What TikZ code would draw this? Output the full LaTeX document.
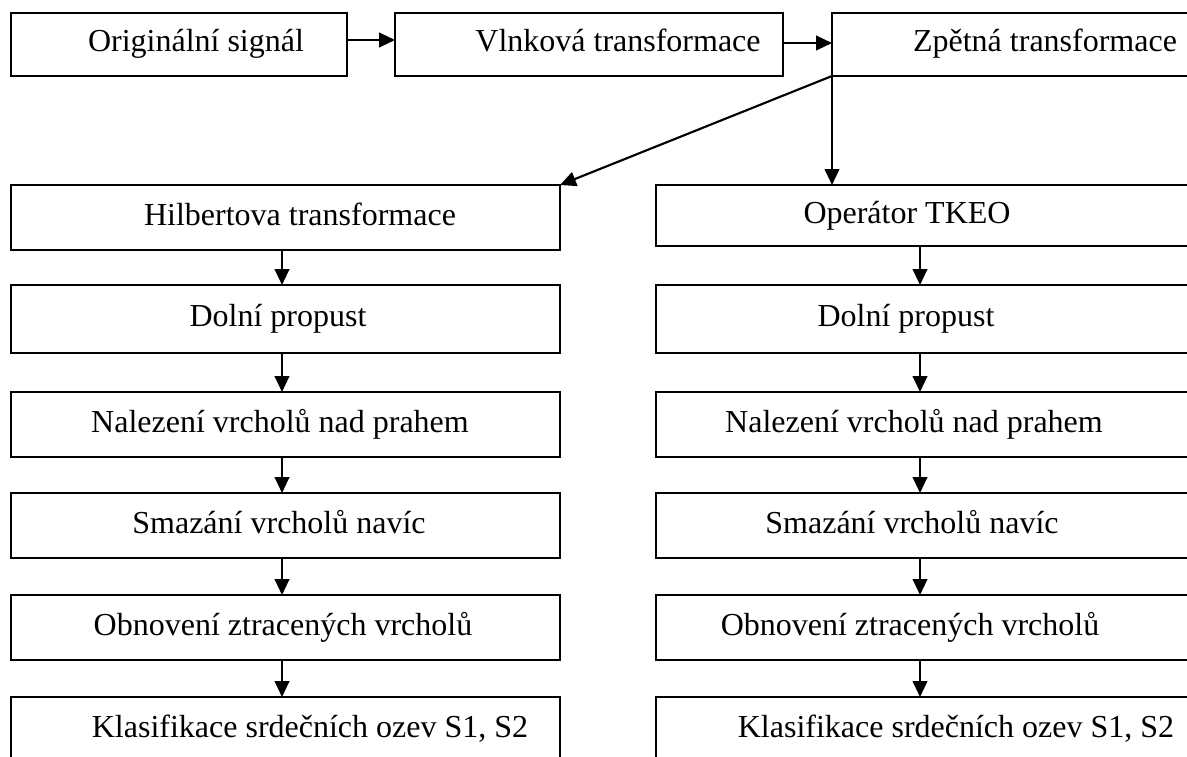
\documentclass[tikz,border=0pt]{standalone}
\usepackage{fontspec}
\setmainfont{Liberation Serif}
\usetikzlibrary{arrows.meta}
\newcommand\mybx[7]{%
  \pgfmathsetlengthmacro\bxoff{(2*#6-#2-#4)*0.75pt}%
  \node[boxst, minimum width={(#4-#2)*0.75pt}, minimum height={(#5-#3)*0.75pt}]
    (#1) at ({(#2+#4)/2},{(#3+#5)/2}) {\makebox[0pt]{\hspace*{\bxoff}#7}};}
\begin{document}
\begin{tikzpicture}[x=0.75pt,y=-0.75pt,
  boxst/.style={draw, line width=1.6pt, inner sep=0pt, outer sep=0pt,
    text height=16pt, text depth=4.75pt, font=\fontsize{24}{28}\selectfont},
  arr/.style={line width=1.6pt, -{Triangle[length=12pt,width=11pt]}}]
\clip (0,0) rectangle (1187,756);
\fill[white] (0,0) rectangle (1187,756);
% top row
\mybx{b1}{11}{13}{347}{76}{196}{Originální signál}
\mybx{b2}{395}{13}{783}{76}{618}{Vlnková transformace}
\mybx{b3}{832}{13}{1205}{76}{1045}{Zpětná transformace}
% left column
\mybx{hil}{11}{185}{560}{250}{300}{Hilbertova transformace}
\mybx{dl}{11}{285}{560}{353}{278}{Dolní propust}
\mybx{nl}{11}{392}{560}{457}{280}{Nalezení vrcholů nad prahem}
\mybx{sl}{11}{493}{560}{558}{279}{Smazání vrcholů navíc}
\mybx{ol}{11}{595}{560}{660}{283}{Obnovení ztracených vrcholů}
\mybx{kl}{11}{697}{560}{762}{310}{Klasifikace srdečních ozev S1, S2}
% right column
\mybx{opr}{656}{185}{1205}{246}{907}{Operátor TKEO}
\mybx{dpr}{656}{285}{1205}{353}{906}{Dolní propust}
\mybx{npr}{656}{392}{1205}{457}{914}{Nalezení vrcholů nad prahem}
\mybx{spr}{656}{493}{1205}{558}{912}{Smazání vrcholů navíc}
\mybx{opx}{656}{595}{1205}{660}{910}{Obnovení ztracených vrcholů}
\mybx{kpr}{656}{697}{1205}{762}{956}{Klasifikace srdečních ozev S1, S2}
% connectors
\coordinate (r1) at (0,40);
\coordinate (r2) at (0,43);
\coordinate (cl) at (282,0);
\coordinate (cr) at (920,0);
\draw[arr] (b1.east |- r1) -- (b2.west |- r1);
\draw[arr] (b2.east |- r2) -- (b3.west |- r2);
\draw[arr] (b3.south west) -- (hil.north east);
\draw[arr] (b3.south west) -- (b3.south west |- opr.north);
\foreach \a/\b in {hil/dl, dl/nl, nl/sl, sl/ol, ol/kl}
  \draw[arr] (\a.south -| cl) -- (\b.north -| cl);
\foreach \a/\b in {opr/dpr, dpr/npr, npr/spr, spr/opx, opx/kpr}
  \draw[arr] (\a.south -| cr) -- (\b.north -| cr);
\end{tikzpicture}
\end{document}
